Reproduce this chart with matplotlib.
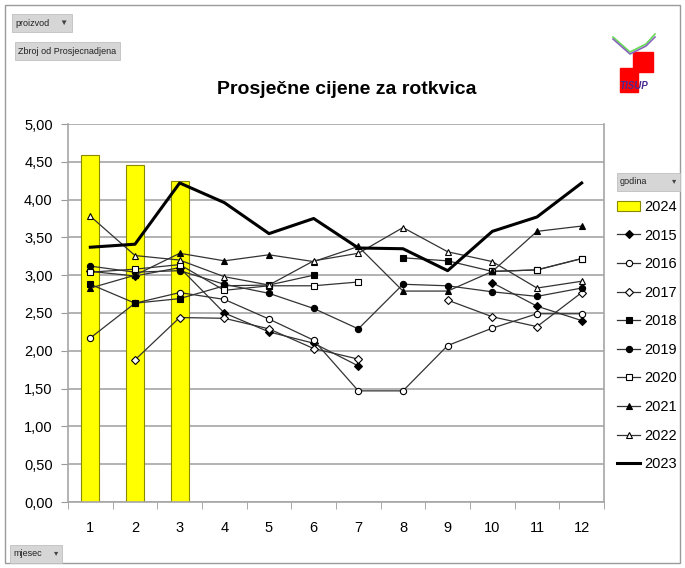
import numpy as np
import matplotlib
matplotlib.use('Agg')
import matplotlib.pyplot as plt
from matplotlib.lines import Line2D
from matplotlib.patches import Rectangle

plt.rcParams['font.family'] = ['Liberation Sans', 'DejaVu Sans']

months = np.arange(1, 13)
month_labels = [str(m) for m in months]
nan = np.nan

# 2024 only has the first three months -> drawn as bars
bars_2024 = [4.59, 4.46, 4.24]

s2015 = [3.05, 2.99, 3.10, 2.50, 2.25, 2.10, 1.80, nan, nan, 2.90, 2.59, 2.40]
s2016 = [2.17, 2.63, 2.77, 2.68, 2.42, 2.14, 1.47, 1.47, 2.07, 2.30, 2.49, 2.49]
s2017 = [nan, 1.88, 2.44, 2.43, 2.29, 2.03, 1.89, nan, 2.67, 2.45, 2.32, 2.77]
s2018 = [2.88, 2.63, 2.69, 2.86, 2.87, 3.00, nan, 3.23, 3.19, 3.05, 3.07, 3.22]
s2019 = [3.12, 3.04, 3.06, 2.88, 2.76, 2.56, 2.29, 2.88, 2.86, 2.78, 2.72, 2.83]
s2020 = [3.04, 3.08, 3.14, 2.80, 2.86, 2.86, 2.91, nan, nan, 3.05, 3.07, 3.22]
s2021 = [2.83, 3.00, 3.29, 3.19, 3.27, 3.18, 3.38, 2.79, 2.79, 3.05, 3.58, 3.65]
s2022 = [3.78, 3.26, 3.20, 2.98, 2.87, 3.19, 3.29, 3.63, 3.31, 3.18, 2.83, 2.92]
s2023 = [3.37, 3.41, 4.22, 3.96, 3.55, 3.75, 3.36, 3.35, 3.06, 3.58, 3.77, 4.22]

series = [
    ('2015', s2015, 'D', 'black'),
    ('2016', s2016, 'o', 'white'),
    ('2017', s2017, 'D', 'white'),
    ('2018', s2018, 's', 'black'),
    ('2019', s2019, 'o', 'black'),
    ('2020', s2020, 's', 'white'),
    ('2021', s2021, '^', 'black'),
    ('2022', s2022, '^', 'white'),
]

fig = plt.figure(figsize=(6.85, 5.68), dpi=100)
ax = fig.add_axes([68 / 685, 1 - 502 / 568, (604 - 68) / 685, (502 - 124) / 568])

ax.bar(months[:3], bars_2024, width=0.4, color='#ffff00', edgecolor='#8a8a00',
       linewidth=0.8, zorder=2)

handles = [Rectangle((0, 0), 1, 1, facecolor='#ffff00', edgecolor='#8a8a00', linewidth=0.8)]
labels = ['2024']
for name, vals, mk, fc in series:
    ms = 4.5 if mk != 'D' else 4.0
    ax.plot(months, vals, color='#333333', linewidth=0.9, marker=mk, markersize=ms,
            markerfacecolor=fc, markeredgecolor='black', markeredgewidth=0.8, zorder=3)
    handles.append(Line2D([], [], color='#333333', linewidth=0.9, marker=mk, markersize=ms,
                          markerfacecolor=fc, markeredgecolor='black', markeredgewidth=0.8))
    labels.append(name)
ax.plot(months, s2023, color='black', linewidth=2.2, zorder=4)
handles.append(Line2D([], [], color='black', linewidth=2.2))
labels.append('2023')

ax.set_xlim(0.5, 12.5)
ax.set_ylim(0, 5)
ax.set_yticks(np.arange(0, 5.01, 0.5))
ax.set_yticklabels([f'{v:.2f}'.replace('.', ',') for v in np.arange(0, 5.01, 0.5)])
ax.set_xticks(months)
ax.set_xticklabels(month_labels)
ax.set_xticks(np.arange(0.5, 12.6, 1), minor=True)
ax.tick_params(axis='x', which='major', length=0, pad=14, labelsize=10.5)
ax.tick_params(axis='x', which='minor', length=5, color='#999999')
ax.tick_params(axis='y', length=5, color='#999999', labelsize=10.5, pad=6)
ax.grid(axis='y', color='#a6a6a6', linewidth=1.2, zorder=0)
ax.set_axisbelow(True)
for side in ['left', 'right', 'bottom']:
    ax.spines[side].set_color('#a6a6a6')
    ax.spines[side].set_linewidth(1.2)
ax.spines['top'].set_visible(False)

fig.text(347 / 685, 1 - 90 / 568, 'Prosječne cijene za rotkvica', ha='center', va='center',
         fontsize=14, fontweight='bold')

fig.legend(handles, labels, loc='upper left', bbox_to_anchor=(617 / 685, 1 - 200 / 568),
           frameon=False, fontsize=10.5, handlelength=1.6, handletextpad=0.3,
           labelspacing=1.0, borderaxespad=0, borderpad=0)

# outer chart border
fig.patches.append(Rectangle((5 / 685, 5 / 568), 1 - 10 / 685, 1 - 10 / 568,
                             transform=fig.transFigure, fill=False,
                             edgecolor='#9a9a9a', linewidth=1.0))


def button(x0, y0, w, h, text, arrow=''):
    fig.patches.append(Rectangle((x0 / 685, 1 - (y0 + h) / 568), w / 685, h / 568,
                                 transform=fig.transFigure, facecolor='#d6d6d6',
                                 edgecolor='#c0c0c0', linewidth=0.6))
    fig.text((x0 + 3) / 685, 1 - (y0 + h / 2) / 568, text, fontsize=6.5,
             va='center', ha='left', color='#222222')
    if arrow:
        fig.text((x0 + w - 4) / 685, 1 - (y0 + h / 2) / 568, arrow, fontsize=6,
                 va='center', ha='right', color='#444444')


button(12, 14, 60, 18, 'proizvod', '▼')
button(15, 42, 105, 18, 'Zbroj od Prosjecnadjena')
button(617, 173, 63, 18, 'godina', '▾')
button(10, 545, 52, 18, 'mjesec', '▾')

# small logo in the top right corner, drawn in its own pixel space
lg = fig.add_axes([610 / 685, 1 - 100 / 568, 50 / 685, 70 / 568])
lg.set_xlim(610, 660)
lg.set_ylim(100, 30)
lg.axis('off')
lg.add_patch(Rectangle((633, 52), 20, 20, color='#ff0000', zorder=1))
lg.add_patch(Rectangle((620, 68), 18, 24, color='#ff0000', zorder=1))
lg.plot([613, 630, 646, 655], [37, 52, 44, 34], color='#66dd55', linewidth=1.2)
lg.plot([613, 630, 646, 655], [39, 54, 46, 37], color='#8866bb', linewidth=1.2)
lg.text(634, 86, 'TISUP', ha='center', va='center', fontsize=7, color='#4a2a90',
        fontstyle='italic', fontweight='bold', zorder=5)

fig.savefig('out.png', dpi=100)
